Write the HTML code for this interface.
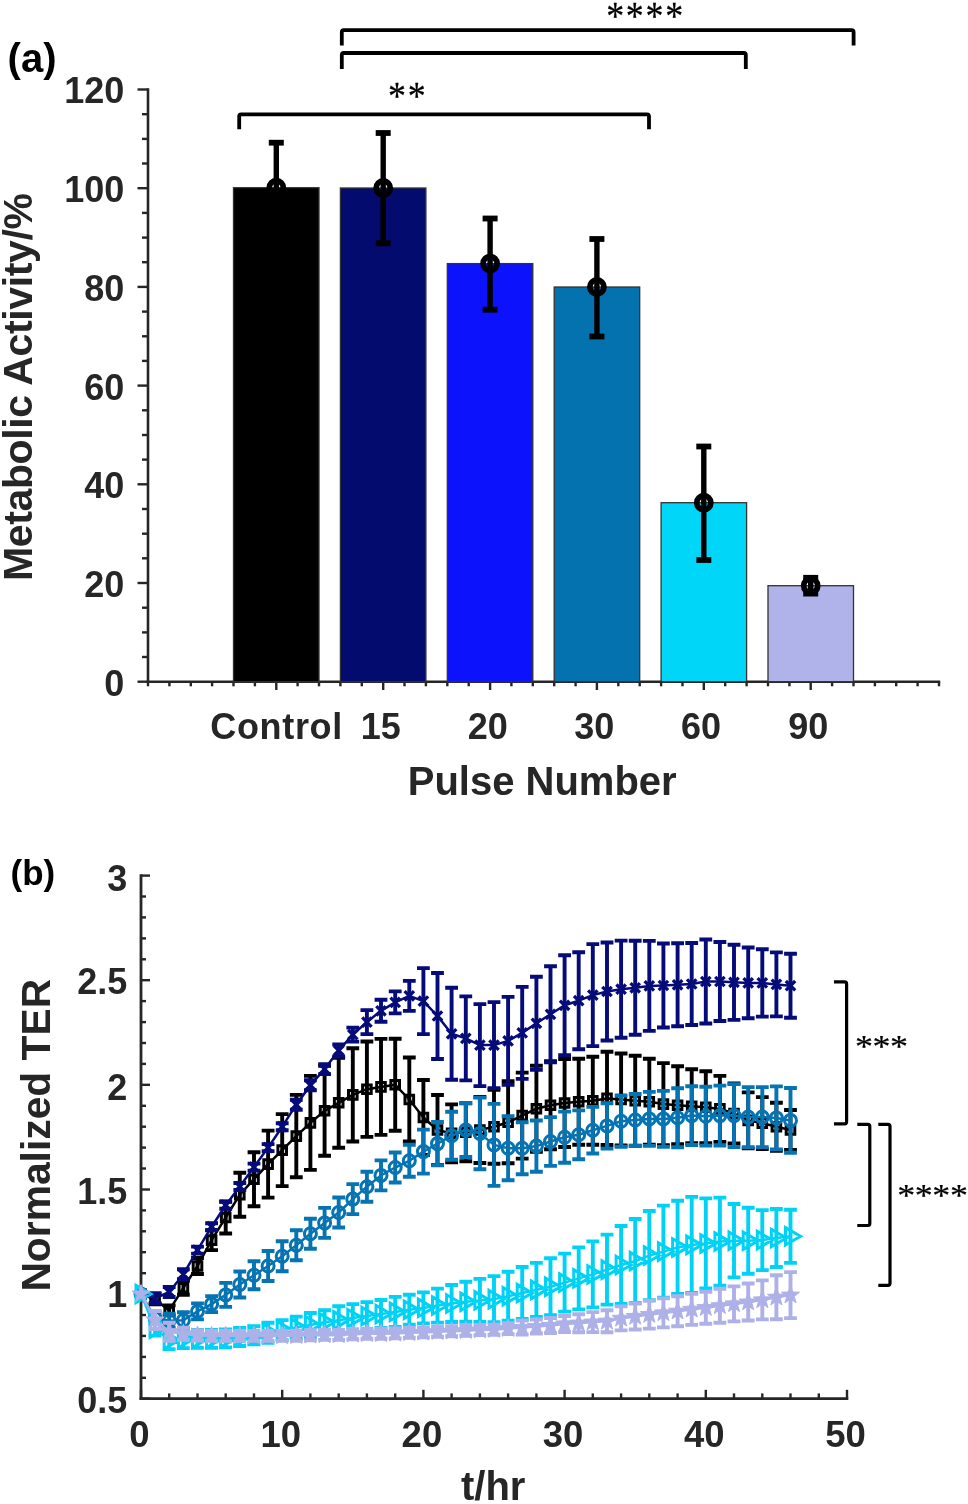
<!DOCTYPE html>
<html><head><meta charset="utf-8"><style>
html,body{margin:0;padding:0;background:#fff;}
body{width:968px;height:1504px;overflow:hidden;}
svg{display:block;will-change:transform;}
</style></head><body>
<svg width="968" height="1504" viewBox="0 0 968 1504">
<rect width="968" height="1504" fill="#fff"/>
<line x1="148.0" y1="88.3" x2="148.0" y2="682.9" stroke="#262626" stroke-width="2.6"/>
<line x1="146.7" y1="681.7" x2="940.2" y2="681.7" stroke="#262626" stroke-width="2.6"/>
<line x1="137.5" y1="681.7" x2="148.0" y2="681.7" stroke="#262626" stroke-width="2.4"/>
<line x1="142.0" y1="657.0" x2="148.0" y2="657.0" stroke="#262626" stroke-width="2.4"/>
<line x1="142.0" y1="632.4" x2="148.0" y2="632.4" stroke="#262626" stroke-width="2.4"/>
<line x1="142.0" y1="607.7" x2="148.0" y2="607.7" stroke="#262626" stroke-width="2.4"/>
<line x1="137.5" y1="583.0" x2="148.0" y2="583.0" stroke="#262626" stroke-width="2.4"/>
<line x1="142.0" y1="558.3" x2="148.0" y2="558.3" stroke="#262626" stroke-width="2.4"/>
<line x1="142.0" y1="533.7" x2="148.0" y2="533.7" stroke="#262626" stroke-width="2.4"/>
<line x1="142.0" y1="509.0" x2="148.0" y2="509.0" stroke="#262626" stroke-width="2.4"/>
<line x1="137.5" y1="484.3" x2="148.0" y2="484.3" stroke="#262626" stroke-width="2.4"/>
<line x1="142.0" y1="459.6" x2="148.0" y2="459.6" stroke="#262626" stroke-width="2.4"/>
<line x1="142.0" y1="435.0" x2="148.0" y2="435.0" stroke="#262626" stroke-width="2.4"/>
<line x1="142.0" y1="410.3" x2="148.0" y2="410.3" stroke="#262626" stroke-width="2.4"/>
<line x1="137.5" y1="385.6" x2="148.0" y2="385.6" stroke="#262626" stroke-width="2.4"/>
<line x1="142.0" y1="360.9" x2="148.0" y2="360.9" stroke="#262626" stroke-width="2.4"/>
<line x1="142.0" y1="336.3" x2="148.0" y2="336.3" stroke="#262626" stroke-width="2.4"/>
<line x1="142.0" y1="311.6" x2="148.0" y2="311.6" stroke="#262626" stroke-width="2.4"/>
<line x1="137.5" y1="286.9" x2="148.0" y2="286.9" stroke="#262626" stroke-width="2.4"/>
<line x1="142.0" y1="262.2" x2="148.0" y2="262.2" stroke="#262626" stroke-width="2.4"/>
<line x1="142.0" y1="237.6" x2="148.0" y2="237.6" stroke="#262626" stroke-width="2.4"/>
<line x1="142.0" y1="212.9" x2="148.0" y2="212.9" stroke="#262626" stroke-width="2.4"/>
<line x1="137.5" y1="188.2" x2="148.0" y2="188.2" stroke="#262626" stroke-width="2.4"/>
<line x1="142.0" y1="163.5" x2="148.0" y2="163.5" stroke="#262626" stroke-width="2.4"/>
<line x1="142.0" y1="138.9" x2="148.0" y2="138.9" stroke="#262626" stroke-width="2.4"/>
<line x1="142.0" y1="114.2" x2="148.0" y2="114.2" stroke="#262626" stroke-width="2.4"/>
<line x1="137.5" y1="89.5" x2="148.0" y2="89.5" stroke="#262626" stroke-width="2.4"/>
<line x1="148.0" y1="681.7" x2="148.0" y2="686.3" stroke="#262626" stroke-width="2.4"/>
<line x1="169.4" y1="681.7" x2="169.4" y2="686.3" stroke="#262626" stroke-width="2.4"/>
<line x1="190.8" y1="681.7" x2="190.8" y2="686.3" stroke="#262626" stroke-width="2.4"/>
<line x1="212.1" y1="681.7" x2="212.1" y2="686.3" stroke="#262626" stroke-width="2.4"/>
<line x1="233.5" y1="681.7" x2="233.5" y2="686.3" stroke="#262626" stroke-width="2.4"/>
<line x1="254.9" y1="681.7" x2="254.9" y2="686.3" stroke="#262626" stroke-width="2.4"/>
<line x1="276.3" y1="681.7" x2="276.3" y2="690.0" stroke="#262626" stroke-width="2.4"/>
<line x1="297.6" y1="681.7" x2="297.6" y2="686.3" stroke="#262626" stroke-width="2.4"/>
<line x1="319.0" y1="681.7" x2="319.0" y2="686.3" stroke="#262626" stroke-width="2.4"/>
<line x1="340.4" y1="681.7" x2="340.4" y2="686.3" stroke="#262626" stroke-width="2.4"/>
<line x1="361.8" y1="681.7" x2="361.8" y2="686.3" stroke="#262626" stroke-width="2.4"/>
<line x1="383.2" y1="681.7" x2="383.2" y2="690.0" stroke="#262626" stroke-width="2.4"/>
<line x1="404.5" y1="681.7" x2="404.5" y2="686.3" stroke="#262626" stroke-width="2.4"/>
<line x1="425.9" y1="681.7" x2="425.9" y2="686.3" stroke="#262626" stroke-width="2.4"/>
<line x1="447.3" y1="681.7" x2="447.3" y2="686.3" stroke="#262626" stroke-width="2.4"/>
<line x1="468.7" y1="681.7" x2="468.7" y2="686.3" stroke="#262626" stroke-width="2.4"/>
<line x1="490.1" y1="681.7" x2="490.1" y2="690.0" stroke="#262626" stroke-width="2.4"/>
<line x1="511.4" y1="681.7" x2="511.4" y2="686.3" stroke="#262626" stroke-width="2.4"/>
<line x1="532.8" y1="681.7" x2="532.8" y2="686.3" stroke="#262626" stroke-width="2.4"/>
<line x1="554.2" y1="681.7" x2="554.2" y2="686.3" stroke="#262626" stroke-width="2.4"/>
<line x1="575.6" y1="681.7" x2="575.6" y2="686.3" stroke="#262626" stroke-width="2.4"/>
<line x1="596.9" y1="681.7" x2="596.9" y2="690.0" stroke="#262626" stroke-width="2.4"/>
<line x1="618.3" y1="681.7" x2="618.3" y2="686.3" stroke="#262626" stroke-width="2.4"/>
<line x1="639.7" y1="681.7" x2="639.7" y2="686.3" stroke="#262626" stroke-width="2.4"/>
<line x1="661.1" y1="681.7" x2="661.1" y2="686.3" stroke="#262626" stroke-width="2.4"/>
<line x1="682.5" y1="681.7" x2="682.5" y2="686.3" stroke="#262626" stroke-width="2.4"/>
<line x1="703.8" y1="681.7" x2="703.8" y2="690.0" stroke="#262626" stroke-width="2.4"/>
<line x1="725.2" y1="681.7" x2="725.2" y2="686.3" stroke="#262626" stroke-width="2.4"/>
<line x1="746.6" y1="681.7" x2="746.6" y2="686.3" stroke="#262626" stroke-width="2.4"/>
<line x1="768.0" y1="681.7" x2="768.0" y2="686.3" stroke="#262626" stroke-width="2.4"/>
<line x1="789.4" y1="681.7" x2="789.4" y2="686.3" stroke="#262626" stroke-width="2.4"/>
<line x1="810.7" y1="681.7" x2="810.7" y2="690.0" stroke="#262626" stroke-width="2.4"/>
<line x1="832.1" y1="681.7" x2="832.1" y2="686.3" stroke="#262626" stroke-width="2.4"/>
<line x1="853.5" y1="681.7" x2="853.5" y2="686.3" stroke="#262626" stroke-width="2.4"/>
<line x1="874.9" y1="681.7" x2="874.9" y2="686.3" stroke="#262626" stroke-width="2.4"/>
<line x1="896.2" y1="681.7" x2="896.2" y2="686.3" stroke="#262626" stroke-width="2.4"/>
<line x1="917.6" y1="681.7" x2="917.6" y2="686.3" stroke="#262626" stroke-width="2.4"/>
<line x1="939.0" y1="681.7" x2="939.0" y2="686.3" stroke="#262626" stroke-width="2.4"/>
<rect x="233.5" y="187.7" width="85.5" height="494.0" fill="#000000" stroke="#333" stroke-width="1.3"/>
<rect x="340.4" y="188.0" width="85.5" height="493.7" fill="#040b6f" stroke="#333" stroke-width="1.3"/>
<rect x="447.3" y="263.6" width="85.5" height="418.1" fill="#0d12fc" stroke="#333" stroke-width="1.3"/>
<rect x="554.2" y="287.0" width="85.5" height="394.7" fill="#0572b0" stroke="#333" stroke-width="1.3"/>
<rect x="661.1" y="502.7" width="85.5" height="179.0" fill="#00d6f8" stroke="#333" stroke-width="1.3"/>
<rect x="768.0" y="585.7" width="85.5" height="96.0" fill="#afb3e9" stroke="#333" stroke-width="1.3"/>
<circle cx="276.3" cy="187.7" r="7.05" fill="none" stroke="#000" stroke-width="5.7"/>
<line x1="276.3" y1="142.7" x2="276.3" y2="233.0" stroke="#000" stroke-width="5.4"/>
<line x1="268.8" y1="142.7" x2="283.8" y2="142.7" stroke="#000" stroke-width="5.8"/>
<line x1="268.8" y1="233.0" x2="283.8" y2="233.0" stroke="#000" stroke-width="5.8"/>
<circle cx="383.2" cy="188.0" r="7.05" fill="none" stroke="#000" stroke-width="5.7"/>
<line x1="383.2" y1="133.0" x2="383.2" y2="243.3" stroke="#000" stroke-width="5.4"/>
<line x1="375.7" y1="133.0" x2="390.7" y2="133.0" stroke="#000" stroke-width="5.8"/>
<line x1="375.7" y1="243.3" x2="390.7" y2="243.3" stroke="#000" stroke-width="5.8"/>
<circle cx="490.1" cy="263.6" r="7.05" fill="none" stroke="#000" stroke-width="5.7"/>
<line x1="490.1" y1="218.5" x2="490.1" y2="309.7" stroke="#000" stroke-width="5.4"/>
<line x1="482.6" y1="218.5" x2="497.6" y2="218.5" stroke="#000" stroke-width="5.8"/>
<line x1="482.6" y1="309.7" x2="497.6" y2="309.7" stroke="#000" stroke-width="5.8"/>
<circle cx="596.9" cy="287.0" r="7.05" fill="none" stroke="#000" stroke-width="5.7"/>
<line x1="596.9" y1="239.0" x2="596.9" y2="336.5" stroke="#000" stroke-width="5.4"/>
<line x1="589.4" y1="239.0" x2="604.4" y2="239.0" stroke="#000" stroke-width="5.8"/>
<line x1="589.4" y1="336.5" x2="604.4" y2="336.5" stroke="#000" stroke-width="5.8"/>
<circle cx="703.8" cy="502.7" r="7.05" fill="none" stroke="#000" stroke-width="5.7"/>
<line x1="703.8" y1="446.5" x2="703.8" y2="560.0" stroke="#000" stroke-width="5.4"/>
<line x1="696.3" y1="446.5" x2="711.3" y2="446.5" stroke="#000" stroke-width="5.8"/>
<line x1="696.3" y1="560.0" x2="711.3" y2="560.0" stroke="#000" stroke-width="5.8"/>
<circle cx="810.7" cy="585.7" r="7.05" fill="none" stroke="#000" stroke-width="5.7"/>
<line x1="810.7" y1="577.8" x2="810.7" y2="593.6" stroke="#000" stroke-width="5.4"/>
<line x1="803.2" y1="577.8" x2="818.2" y2="577.8" stroke="#000" stroke-width="5.8"/>
<line x1="803.2" y1="593.6" x2="818.2" y2="593.6" stroke="#000" stroke-width="5.8"/>
<path d="M341.8 45.6 L341.8 32.1 Q341.8 30.1 343.8 30.1 L851.6 30.1 Q853.6 30.1 853.6 32.1 L853.6 45.6" fill="none" stroke="#000" stroke-width="3.8"/>
<path d="M341.8 69.0 L341.8 55.0 Q341.8 53.0 343.8 53.0 L743.8 53.0 Q745.8 53.0 745.8 55.0 L745.8 69.0" fill="none" stroke="#000" stroke-width="3.8"/>
<path d="M239.2 129.2 L239.2 116.4 Q239.2 114.4 241.2 114.4 L647.0 114.4 Q649.0 114.4 649.0 116.4 L649.0 129.2" fill="none" stroke="#000" stroke-width="3.8"/>
<text x="7.6" y="71.6" font-family='"Liberation Sans", sans-serif' font-size="40" font-weight="bold" text-anchor="start" fill="#000" >(a)</text>
<text x="124.4" y="695.6" font-family='"Liberation Sans", sans-serif' font-size="36" font-weight="bold" text-anchor="end" fill="#262626" >0</text>
<text x="124.4" y="596.9" font-family='"Liberation Sans", sans-serif' font-size="36" font-weight="bold" text-anchor="end" fill="#262626" >20</text>
<text x="124.4" y="498.2" font-family='"Liberation Sans", sans-serif' font-size="36" font-weight="bold" text-anchor="end" fill="#262626" >40</text>
<text x="124.4" y="399.5" font-family='"Liberation Sans", sans-serif' font-size="36" font-weight="bold" text-anchor="end" fill="#262626" >60</text>
<text x="124.4" y="300.8" font-family='"Liberation Sans", sans-serif' font-size="36" font-weight="bold" text-anchor="end" fill="#262626" >80</text>
<text x="124.4" y="202.1" font-family='"Liberation Sans", sans-serif' font-size="36" font-weight="bold" text-anchor="end" fill="#262626" >100</text>
<text x="124.4" y="103.4" font-family='"Liberation Sans", sans-serif' font-size="36" font-weight="bold" text-anchor="end" fill="#262626" >120</text>
<text x="276.3" y="739.4" font-family='"Liberation Sans", sans-serif' font-size="36" font-weight="bold" text-anchor="middle" fill="#262626" textLength="132" lengthAdjust="spacing">Control</text>
<text x="380.7" y="739.4" font-family='"Liberation Sans", sans-serif' font-size="36" font-weight="bold" text-anchor="middle" fill="#262626" >15</text>
<text x="487.8" y="739.4" font-family='"Liberation Sans", sans-serif' font-size="36" font-weight="bold" text-anchor="middle" fill="#262626" >20</text>
<text x="594.2" y="739.4" font-family='"Liberation Sans", sans-serif' font-size="36" font-weight="bold" text-anchor="middle" fill="#262626" >30</text>
<text x="701.1" y="739.4" font-family='"Liberation Sans", sans-serif' font-size="36" font-weight="bold" text-anchor="middle" fill="#262626" >60</text>
<text x="808.2" y="739.4" font-family='"Liberation Sans", sans-serif' font-size="36" font-weight="bold" text-anchor="middle" fill="#262626" >90</text>
<text x="542.2" y="795.0" font-family='"Liberation Sans", sans-serif' font-size="40" font-weight="bold" text-anchor="middle" fill="#262626" >Pulse Number</text>
<text transform="translate(32.0 387) rotate(-90)" x="0" y="0" font-family='"Liberation Sans", sans-serif' font-size="41" font-weight="bold" text-anchor="middle" fill="#262626" textLength="388" lengthAdjust="spacing">Metabolic Activity/%</text>
<text transform="translate(606.13 28.84) scale(0.3588 0.3986)" font-family='"Liberation Serif", serif' font-size="100" fill="#000" stroke="#000" stroke-width="0.66">*</text>
<text transform="translate(625.80 28.84) scale(0.3588 0.3986)" font-family='"Liberation Serif", serif' font-size="100" fill="#000" stroke="#000" stroke-width="0.66">*</text>
<text transform="translate(645.47 28.84) scale(0.3588 0.3986)" font-family='"Liberation Serif", serif' font-size="100" fill="#000" stroke="#000" stroke-width="0.66">*</text>
<text transform="translate(665.14 28.84) scale(0.3588 0.3986)" font-family='"Liberation Serif", serif' font-size="100" fill="#000" stroke="#000" stroke-width="0.66">*</text>
<text transform="translate(388.03 108.94) scale(0.3588 0.3986)" font-family='"Liberation Serif", serif' font-size="100" fill="#000" stroke="#000" stroke-width="0.66">*</text>
<text transform="translate(407.83 108.94) scale(0.3588 0.3986)" font-family='"Liberation Serif", serif' font-size="100" fill="#000" stroke="#000" stroke-width="0.66">*</text>
<line x1="141.0" y1="874.3" x2="141.0" y2="1400.0" stroke="#262626" stroke-width="2.8"/>
<line x1="139.6" y1="1398.7" x2="848.3" y2="1398.7" stroke="#262626" stroke-width="2.8"/>
<line x1="141.0" y1="1398.7" x2="150.0" y2="1398.7" stroke="#262626" stroke-width="2.4"/>
<line x1="141.0" y1="1377.8" x2="146.0" y2="1377.8" stroke="#262626" stroke-width="2.4"/>
<line x1="141.0" y1="1356.9" x2="146.0" y2="1356.9" stroke="#262626" stroke-width="2.4"/>
<line x1="141.0" y1="1335.9" x2="146.0" y2="1335.9" stroke="#262626" stroke-width="2.4"/>
<line x1="141.0" y1="1315.0" x2="146.0" y2="1315.0" stroke="#262626" stroke-width="2.4"/>
<line x1="141.0" y1="1294.1" x2="150.0" y2="1294.1" stroke="#262626" stroke-width="2.4"/>
<line x1="141.0" y1="1273.2" x2="146.0" y2="1273.2" stroke="#262626" stroke-width="2.4"/>
<line x1="141.0" y1="1252.2" x2="146.0" y2="1252.2" stroke="#262626" stroke-width="2.4"/>
<line x1="141.0" y1="1231.3" x2="146.0" y2="1231.3" stroke="#262626" stroke-width="2.4"/>
<line x1="141.0" y1="1210.4" x2="146.0" y2="1210.4" stroke="#262626" stroke-width="2.4"/>
<line x1="141.0" y1="1189.5" x2="150.0" y2="1189.5" stroke="#262626" stroke-width="2.4"/>
<line x1="141.0" y1="1168.5" x2="146.0" y2="1168.5" stroke="#262626" stroke-width="2.4"/>
<line x1="141.0" y1="1147.6" x2="146.0" y2="1147.6" stroke="#262626" stroke-width="2.4"/>
<line x1="141.0" y1="1126.7" x2="146.0" y2="1126.7" stroke="#262626" stroke-width="2.4"/>
<line x1="141.0" y1="1105.8" x2="146.0" y2="1105.8" stroke="#262626" stroke-width="2.4"/>
<line x1="141.0" y1="1084.8" x2="150.0" y2="1084.8" stroke="#262626" stroke-width="2.4"/>
<line x1="141.0" y1="1063.9" x2="146.0" y2="1063.9" stroke="#262626" stroke-width="2.4"/>
<line x1="141.0" y1="1043.0" x2="146.0" y2="1043.0" stroke="#262626" stroke-width="2.4"/>
<line x1="141.0" y1="1022.1" x2="146.0" y2="1022.1" stroke="#262626" stroke-width="2.4"/>
<line x1="141.0" y1="1001.1" x2="146.0" y2="1001.1" stroke="#262626" stroke-width="2.4"/>
<line x1="141.0" y1="980.2" x2="150.0" y2="980.2" stroke="#262626" stroke-width="2.4"/>
<line x1="141.0" y1="959.3" x2="146.0" y2="959.3" stroke="#262626" stroke-width="2.4"/>
<line x1="141.0" y1="938.4" x2="146.0" y2="938.4" stroke="#262626" stroke-width="2.4"/>
<line x1="141.0" y1="917.4" x2="146.0" y2="917.4" stroke="#262626" stroke-width="2.4"/>
<line x1="141.0" y1="896.5" x2="146.0" y2="896.5" stroke="#262626" stroke-width="2.4"/>
<line x1="141.0" y1="875.6" x2="150.0" y2="875.6" stroke="#262626" stroke-width="2.4"/>
<line x1="141.0" y1="1398.7" x2="141.0" y2="1389.8" stroke="#262626" stroke-width="2.4"/>
<line x1="169.2" y1="1398.7" x2="169.2" y2="1393.4" stroke="#262626" stroke-width="2.4"/>
<line x1="197.5" y1="1398.7" x2="197.5" y2="1393.4" stroke="#262626" stroke-width="2.4"/>
<line x1="225.7" y1="1398.7" x2="225.7" y2="1393.4" stroke="#262626" stroke-width="2.4"/>
<line x1="254.0" y1="1398.7" x2="254.0" y2="1393.4" stroke="#262626" stroke-width="2.4"/>
<line x1="282.2" y1="1398.7" x2="282.2" y2="1389.8" stroke="#262626" stroke-width="2.4"/>
<line x1="310.4" y1="1398.7" x2="310.4" y2="1393.4" stroke="#262626" stroke-width="2.4"/>
<line x1="338.7" y1="1398.7" x2="338.7" y2="1393.4" stroke="#262626" stroke-width="2.4"/>
<line x1="366.9" y1="1398.7" x2="366.9" y2="1393.4" stroke="#262626" stroke-width="2.4"/>
<line x1="395.2" y1="1398.7" x2="395.2" y2="1393.4" stroke="#262626" stroke-width="2.4"/>
<line x1="423.4" y1="1398.7" x2="423.4" y2="1389.8" stroke="#262626" stroke-width="2.4"/>
<line x1="451.6" y1="1398.7" x2="451.6" y2="1393.4" stroke="#262626" stroke-width="2.4"/>
<line x1="479.9" y1="1398.7" x2="479.9" y2="1393.4" stroke="#262626" stroke-width="2.4"/>
<line x1="508.1" y1="1398.7" x2="508.1" y2="1393.4" stroke="#262626" stroke-width="2.4"/>
<line x1="536.4" y1="1398.7" x2="536.4" y2="1393.4" stroke="#262626" stroke-width="2.4"/>
<line x1="564.6" y1="1398.7" x2="564.6" y2="1389.8" stroke="#262626" stroke-width="2.4"/>
<line x1="592.8" y1="1398.7" x2="592.8" y2="1393.4" stroke="#262626" stroke-width="2.4"/>
<line x1="621.1" y1="1398.7" x2="621.1" y2="1393.4" stroke="#262626" stroke-width="2.4"/>
<line x1="649.3" y1="1398.7" x2="649.3" y2="1393.4" stroke="#262626" stroke-width="2.4"/>
<line x1="677.6" y1="1398.7" x2="677.6" y2="1393.4" stroke="#262626" stroke-width="2.4"/>
<line x1="705.8" y1="1398.7" x2="705.8" y2="1389.8" stroke="#262626" stroke-width="2.4"/>
<line x1="734.0" y1="1398.7" x2="734.0" y2="1393.4" stroke="#262626" stroke-width="2.4"/>
<line x1="762.3" y1="1398.7" x2="762.3" y2="1393.4" stroke="#262626" stroke-width="2.4"/>
<line x1="790.5" y1="1398.7" x2="790.5" y2="1393.4" stroke="#262626" stroke-width="2.4"/>
<line x1="818.8" y1="1398.7" x2="818.8" y2="1393.4" stroke="#262626" stroke-width="2.4"/>
<line x1="847.0" y1="1398.7" x2="847.0" y2="1389.8" stroke="#262626" stroke-width="2.4"/>
<text x="10.5" y="885.4" font-family='"Liberation Sans", sans-serif' font-size="35" font-weight="bold" text-anchor="start" fill="#000" >(b)</text>
<text x="127.2" y="1413.0" font-family='"Liberation Sans", sans-serif' font-size="36" font-weight="bold" text-anchor="end" fill="#262626" >0.5</text>
<text x="127.2" y="1307.4" font-family='"Liberation Sans", sans-serif' font-size="36" font-weight="bold" text-anchor="end" fill="#262626" >1</text>
<text x="127.2" y="1204.3" font-family='"Liberation Sans", sans-serif' font-size="36" font-weight="bold" text-anchor="end" fill="#262626" >1.5</text>
<text x="127.2" y="1099.7" font-family='"Liberation Sans", sans-serif' font-size="36" font-weight="bold" text-anchor="end" fill="#262626" >2</text>
<text x="127.2" y="994.0" font-family='"Liberation Sans", sans-serif' font-size="36" font-weight="bold" text-anchor="end" fill="#262626" >2.5</text>
<text x="127.2" y="890.9" font-family='"Liberation Sans", sans-serif' font-size="36" font-weight="bold" text-anchor="end" fill="#262626" >3</text>
<text x="139.5" y="1446.6" font-family='"Liberation Sans", sans-serif' font-size="36.5" font-weight="bold" text-anchor="middle" fill="#262626" >0</text>
<text x="280.7" y="1446.6" font-family='"Liberation Sans", sans-serif' font-size="36.5" font-weight="bold" text-anchor="middle" fill="#262626" >10</text>
<text x="421.9" y="1446.6" font-family='"Liberation Sans", sans-serif' font-size="36.5" font-weight="bold" text-anchor="middle" fill="#262626" >20</text>
<text x="563.1" y="1446.6" font-family='"Liberation Sans", sans-serif' font-size="36.5" font-weight="bold" text-anchor="middle" fill="#262626" >30</text>
<text x="704.3" y="1446.6" font-family='"Liberation Sans", sans-serif' font-size="36.5" font-weight="bold" text-anchor="middle" fill="#262626" >40</text>
<text x="845.5" y="1446.6" font-family='"Liberation Sans", sans-serif' font-size="36.5" font-weight="bold" text-anchor="middle" fill="#262626" >50</text>
<text x="493.2" y="1500.0" font-family='"Liberation Sans", sans-serif' font-size="40" font-weight="bold" text-anchor="middle" fill="#262626" >t/hr</text>
<text transform="translate(49.6 1135.2) rotate(-90)" x="0" y="0" font-family='"Liberation Sans", sans-serif' font-size="40.8" font-weight="bold" text-anchor="middle" fill="#262626">Normalized TER</text>
<path d="M834.0 981.9 L844.6 981.9 Q846.6 981.9 846.6 983.9 L846.6 1121.8 Q846.6 1123.8 844.6 1123.8 L834.0 1123.8" fill="none" stroke="#000" stroke-width="3.2"/>
<path d="M857.3 1124.3 L867.8 1124.3 Q869.8 1124.3 869.8 1126.3 L869.8 1223.5 Q869.8 1225.5 867.8 1225.5 L857.3 1225.5" fill="none" stroke="#000" stroke-width="3.2"/>
<path d="M878.3 1124.3 L888.0 1124.3 Q890.0 1124.3 890.0 1126.3 L890.0 1283.3 Q890.0 1285.3 888.0 1285.3 L878.3 1285.3" fill="none" stroke="#000" stroke-width="3.2"/>
<text transform="translate(855.03 1056.86) scale(0.3588 0.3068)" font-family='"Liberation Serif", serif' font-size="100" fill="#000" stroke="#000" stroke-width="0.75">*</text>
<text transform="translate(872.53 1056.86) scale(0.3588 0.3068)" font-family='"Liberation Serif", serif' font-size="100" fill="#000" stroke="#000" stroke-width="0.75">*</text>
<text transform="translate(890.03 1056.86) scale(0.3588 0.3068)" font-family='"Liberation Serif", serif' font-size="100" fill="#000" stroke="#000" stroke-width="0.75">*</text>
<text transform="translate(897.13 1205.94) scale(0.3588 0.3095)" font-family='"Liberation Serif", serif' font-size="100" fill="#000" stroke="#000" stroke-width="0.75">*</text>
<text transform="translate(914.73 1205.94) scale(0.3588 0.3095)" font-family='"Liberation Serif", serif' font-size="100" fill="#000" stroke="#000" stroke-width="0.75">*</text>
<text transform="translate(932.33 1205.94) scale(0.3588 0.3095)" font-family='"Liberation Serif", serif' font-size="100" fill="#000" stroke="#000" stroke-width="0.75">*</text>
<text transform="translate(949.93 1205.94) scale(0.3588 0.3095)" font-family='"Liberation Serif", serif' font-size="100" fill="#000" stroke="#000" stroke-width="0.75">*</text>
<path d="M155.1 1294.3V1304.3M148.7 1294.3H161.5M148.7 1304.3H161.5M169.2 1305.4V1315.4M162.8 1305.4H175.6M162.8 1315.4H175.6M183.4 1280.8V1294.8M177.0 1280.8H189.8M177.0 1294.8H189.8M197.5 1258.0V1274.0M191.1 1258.0H203.9M191.1 1274.0H203.9M211.6 1230.1V1250.1M205.2 1230.1H218.0M205.2 1250.1H218.0M225.7 1201.5V1233.5M219.3 1201.5H232.1M219.3 1233.5H232.1M239.8 1172.7V1216.7M233.4 1172.7H246.2M233.4 1216.7H246.2M254.0 1152.2V1206.2M247.6 1152.2H260.4M247.6 1206.2H260.4M268.1 1130.6V1197.6M261.7 1130.6H274.5M261.7 1197.6H274.5M282.2 1114.1V1186.1M275.8 1114.1H288.6M275.8 1186.1H288.6M296.3 1094.9V1177.3M289.9 1094.9H302.7M289.9 1177.3H302.7M310.4 1075.9V1169.9M304.0 1075.9H316.8M304.0 1169.9H316.8M324.6 1065.8V1155.8M318.2 1065.8H331.0M318.2 1155.8H331.0M338.7 1057.8V1147.8M332.3 1057.8H345.1M332.3 1147.8H345.1M352.8 1048.3V1141.5M346.4 1048.3H359.2M346.4 1141.5H359.2M366.9 1041.5V1136.9M360.5 1041.5H373.3M360.5 1136.9H373.3M381.0 1038.9V1134.9M374.6 1038.9H387.4M374.6 1134.9H387.4M395.2 1038.8V1130.8M388.8 1038.8H401.6M388.8 1130.8H401.6M409.3 1057.5V1141.5M402.9 1057.5H415.7M402.9 1141.5H415.7M423.4 1080.0V1155.0M417.0 1080.0H429.8M417.0 1155.0H429.8M437.5 1095.0V1165.0M431.1 1095.0H443.9M431.1 1165.0H443.9M451.6 1104.4V1162.4M445.2 1104.4H458.0M445.2 1162.4H458.0M465.8 1103.3V1161.3M459.4 1103.3H472.2M459.4 1161.3H472.2M479.9 1097.0V1163.0M473.5 1097.0H486.3M473.5 1163.0H486.3M494.0 1089.7V1163.7M487.6 1089.7H500.4M487.6 1163.7H500.4M508.1 1081.3V1163.3M501.7 1081.3H514.5M501.7 1163.3H514.5M522.2 1072.6V1158.6M515.8 1072.6H528.6M515.8 1158.6H528.6M536.4 1065.7V1151.7M530.0 1065.7H542.8M530.0 1151.7H542.8M550.5 1061.3V1149.3M544.1 1061.3H556.9M544.1 1149.3H556.9M564.6 1059.0V1147.0M558.2 1059.0H571.0M558.2 1147.0H571.0M578.7 1058.8V1144.8M572.3 1058.8H585.1M572.3 1144.8H585.1M592.8 1056.7V1144.7M586.4 1056.7H599.2M586.4 1144.7H599.2M607.0 1051.8V1145.0M600.6 1051.8H613.4M600.6 1145.0H613.4M621.1 1053.5V1145.5M614.7 1053.5H627.5M614.7 1145.5H627.5M635.2 1055.7V1145.7M628.8 1055.7H641.6M628.8 1145.7H641.6M649.3 1058.8V1144.8M642.9 1058.8H655.7M642.9 1144.8H655.7M663.4 1063.1V1145.1M657.0 1063.1H669.8M657.0 1145.1H669.8M677.6 1066.3V1144.3M671.2 1066.3H684.0M671.2 1144.3H684.0M691.7 1069.2V1143.2M685.3 1069.2H698.1M685.3 1143.2H698.1M705.8 1071.2V1143.2M699.4 1071.2H712.2M699.4 1143.2H712.2M719.9 1075.9V1141.9M713.5 1075.9H726.3M713.5 1141.9H726.3M734.0 1083.5V1143.5M727.6 1083.5H740.4M727.6 1143.5H740.4M748.2 1092.4V1148.4M741.8 1092.4H754.6M741.8 1148.4H754.6M762.3 1097.1V1149.1M755.9 1097.1H768.7M755.9 1149.1H768.7M776.4 1102.7V1150.7M770.0 1102.7H782.8M770.0 1150.7H782.8M790.5 1110.0V1150.0M784.1 1110.0H796.9M784.1 1150.0H796.9" fill="none" stroke="#000000" stroke-width="3.9"/>
<path d="M141.0 1294.1 L155.1 1299.3 L169.2 1310.4 L183.4 1287.8 L197.5 1266.0 L211.6 1240.1 L225.7 1217.5 L239.8 1194.7 L254.0 1179.2 L268.1 1164.1 L282.2 1150.1 L296.3 1136.1 L310.4 1122.9 L324.6 1110.8 L338.7 1102.8 L352.8 1094.9 L366.9 1089.2 L381.0 1086.9 L395.2 1084.8 L409.3 1099.5 L423.4 1117.5 L437.5 1130.0 L451.6 1133.4 L465.8 1132.3 L479.9 1130.0 L494.0 1126.7 L508.1 1122.3 L522.2 1115.6 L536.4 1108.7 L550.5 1105.3 L564.6 1103.0 L578.7 1101.8 L592.8 1100.7 L607.0 1098.4 L621.1 1099.5 L635.2 1100.7 L649.3 1101.8 L663.4 1104.1 L677.6 1105.3 L691.7 1106.2 L705.8 1107.2 L719.9 1108.9 L734.0 1113.5 L748.2 1120.4 L762.3 1123.1 L776.4 1126.7 L790.5 1130.0" fill="none" stroke="#000000" stroke-width="2.5" stroke-linejoin="round"/>
<path d="M136.7 1289.8h8.6v8.6h-8.6zM150.8 1295.0h8.6v8.6h-8.6zM164.9 1306.1h8.6v8.6h-8.6zM179.1 1283.5h8.6v8.6h-8.6zM193.2 1261.7h8.6v8.6h-8.6zM207.3 1235.8h8.6v8.6h-8.6zM221.4 1213.2h8.6v8.6h-8.6zM235.5 1190.4h8.6v8.6h-8.6zM249.7 1174.9h8.6v8.6h-8.6zM263.8 1159.8h8.6v8.6h-8.6zM277.9 1145.8h8.6v8.6h-8.6zM292.0 1131.8h8.6v8.6h-8.6zM306.1 1118.6h8.6v8.6h-8.6zM320.3 1106.5h8.6v8.6h-8.6zM334.4 1098.5h8.6v8.6h-8.6zM348.5 1090.6h8.6v8.6h-8.6zM362.6 1084.9h8.6v8.6h-8.6zM376.7 1082.6h8.6v8.6h-8.6zM390.9 1080.5h8.6v8.6h-8.6zM405.0 1095.2h8.6v8.6h-8.6zM419.1 1113.2h8.6v8.6h-8.6zM433.2 1125.7h8.6v8.6h-8.6zM447.3 1129.1h8.6v8.6h-8.6zM461.5 1128.0h8.6v8.6h-8.6zM475.6 1125.7h8.6v8.6h-8.6zM489.7 1122.4h8.6v8.6h-8.6zM503.8 1118.0h8.6v8.6h-8.6zM517.9 1111.3h8.6v8.6h-8.6zM532.1 1104.4h8.6v8.6h-8.6zM546.2 1101.0h8.6v8.6h-8.6zM560.3 1098.7h8.6v8.6h-8.6zM574.4 1097.5h8.6v8.6h-8.6zM588.5 1096.4h8.6v8.6h-8.6zM602.7 1094.1h8.6v8.6h-8.6zM616.8 1095.2h8.6v8.6h-8.6zM630.9 1096.4h8.6v8.6h-8.6zM645.0 1097.5h8.6v8.6h-8.6zM659.1 1099.8h8.6v8.6h-8.6zM673.3 1101.0h8.6v8.6h-8.6zM687.4 1101.9h8.6v8.6h-8.6zM701.5 1102.9h8.6v8.6h-8.6zM715.6 1104.6h8.6v8.6h-8.6zM729.7 1109.2h8.6v8.6h-8.6zM743.9 1116.1h8.6v8.6h-8.6zM758.0 1118.8h8.6v8.6h-8.6zM772.1 1122.4h8.6v8.6h-8.6zM786.2 1125.7h8.6v8.6h-8.6z" fill="none" stroke="#000000" stroke-width="3"/>
<path d="M155.1 1293.3V1303.3M148.7 1293.3H161.5M148.7 1303.3H161.5M169.2 1287.0V1297.0M162.8 1287.0H175.6M162.8 1297.0H175.6M183.4 1269.2V1279.2M177.0 1269.2H189.8M177.0 1279.2H189.8M197.5 1246.6V1253.6M191.1 1246.6H203.9M191.1 1253.6H203.9M211.6 1223.2V1230.2M205.2 1223.2H218.0M205.2 1230.2H218.0M225.7 1201.7V1208.7M219.3 1201.7H232.1M219.3 1208.7H232.1M239.8 1183.0V1190.0M233.4 1183.0H246.2M233.4 1190.0H246.2M254.0 1163.6V1170.6M247.6 1163.6H260.4M247.6 1170.6H260.4M268.1 1144.1V1151.1M261.7 1144.1H274.5M261.7 1151.1H274.5M282.2 1123.2V1130.2M275.8 1123.2H288.6M275.8 1130.2H288.6M296.3 1099.7V1109.7M289.9 1099.7H302.7M289.9 1109.7H302.7M310.4 1080.3V1090.3M304.0 1080.3H316.8M304.0 1090.3H316.8M324.6 1064.1V1074.1M318.2 1064.1H331.0M318.2 1074.1H331.0M338.7 1044.5V1056.5M332.3 1044.5H345.1M332.3 1056.5H345.1M352.8 1027.6V1041.6M346.4 1027.6H359.2M346.4 1041.6H359.2M366.9 1010.1V1034.1M360.5 1010.1H373.3M360.5 1034.1H373.3M381.0 999.8V1021.8M374.6 999.8H387.4M374.6 1021.8H387.4M395.2 991.4V1013.4M388.8 991.4H401.6M388.8 1013.4H401.6M409.3 980.9V1010.9M402.9 980.9H415.7M402.9 1010.9H415.7M423.4 968.1V1034.1M417.0 968.1H429.8M417.0 1034.1H429.8M437.5 973.0V1059.0M431.1 973.0H443.9M431.1 1059.0H443.9M451.6 987.8V1079.8M445.2 987.8H458.0M445.2 1079.8H458.0M465.8 996.4V1080.4M459.4 996.4H472.2M459.4 1080.4H472.2M479.9 1004.1V1086.1M473.5 1004.1H486.3M473.5 1086.1H486.3M494.0 1002.1V1088.1M487.6 1002.1H500.4M487.6 1088.1H500.4M508.1 996.9V1084.9M501.7 996.9H514.5M501.7 1084.9H514.5M522.2 986.9V1078.9M515.8 986.9H528.6M515.8 1078.9H528.6M536.4 976.7V1069.9M530.0 976.7H542.8M530.0 1069.9H542.8M550.5 966.3V1062.3M544.1 966.3H556.9M544.1 1062.3H556.9M564.6 955.3V1055.3M558.2 955.3H571.0M558.2 1055.3H571.0M578.7 952.2V1049.2M572.3 952.2H585.1M572.3 1049.2H585.1M592.8 944.1V1046.1M586.4 944.1H599.2M586.4 1046.1H599.2M607.0 942.5V1040.5M600.6 942.5H613.4M600.6 1040.5H613.4M621.1 940.6V1037.8M614.7 940.6H627.5M614.7 1037.8H627.5M635.2 940.8V1034.8M628.8 940.8H641.6M628.8 1034.8H641.6M649.3 940.9V1030.9M642.9 940.9H655.7M642.9 1030.9H655.7M663.4 943.5V1027.5M657.0 943.5H669.8M657.0 1027.5H669.8M677.6 943.3V1026.3M671.2 943.3H684.0M671.2 1026.3H684.0M691.7 943.0V1025.0M685.3 943.0H698.1M685.3 1025.0H698.1M705.8 939.5V1023.5M699.4 939.5H712.2M699.4 1023.5H712.2M719.9 942.0V1021.0M713.5 942.0H726.3M713.5 1021.0H726.3M734.0 944.7V1019.9M727.6 944.7H740.4M727.6 1019.9H740.4M748.2 947.5V1018.3M741.8 947.5H754.6M741.8 1018.3H754.6M762.3 949.2V1016.6M755.9 949.2H768.7M755.9 1016.6H768.7M776.4 952.4V1016.4M770.0 952.4H782.8M770.0 1016.4H782.8M790.5 953.7V1017.7M784.1 953.7H796.9M784.1 1017.7H796.9" fill="none" stroke="#050b78" stroke-width="3.9"/>
<path d="M141.0 1294.1 L155.1 1298.3 L169.2 1292.0 L183.4 1274.2 L197.5 1250.1 L211.6 1226.7 L225.7 1205.2 L239.8 1186.5 L254.0 1167.1 L268.1 1147.6 L282.2 1126.7 L296.3 1104.7 L310.4 1085.3 L324.6 1069.1 L338.7 1050.5 L352.8 1034.6 L366.9 1022.1 L381.0 1010.8 L395.2 1002.4 L409.3 995.9 L423.4 1001.1 L437.5 1016.0 L451.6 1033.8 L465.8 1038.4 L479.9 1045.1 L494.0 1045.1 L508.1 1040.9 L522.2 1032.9 L536.4 1023.3 L550.5 1014.3 L564.6 1005.3 L578.7 1000.7 L592.8 995.1 L607.0 991.5 L621.1 989.2 L635.2 987.8 L649.3 985.9 L663.4 985.5 L677.6 984.8 L691.7 984.0 L705.8 981.5 L719.9 981.5 L734.0 982.3 L748.2 982.9 L762.3 982.9 L776.4 984.4 L790.5 985.7" fill="none" stroke="#050b78" stroke-width="2.5" stroke-linejoin="round"/>
<path d="M136.3 1289.4L145.7 1298.8M136.3 1298.8L145.7 1289.4M150.4 1293.6L159.8 1303.0M150.4 1303.0L159.8 1293.6M164.5 1287.3L173.9 1296.7M164.5 1296.7L173.9 1287.3M178.7 1269.5L188.1 1278.9M178.7 1278.9L188.1 1269.5M192.8 1245.4L202.2 1254.8M192.8 1254.8L202.2 1245.4M206.9 1222.0L216.3 1231.4M206.9 1231.4L216.3 1222.0M221.0 1200.5L230.4 1209.9M221.0 1209.9L230.4 1200.5M235.1 1181.8L244.5 1191.2M235.1 1191.2L244.5 1181.8M249.3 1162.4L258.7 1171.8M249.3 1171.8L258.7 1162.4M263.4 1142.9L272.8 1152.3M263.4 1152.3L272.8 1142.9M277.5 1122.0L286.9 1131.4M277.5 1131.4L286.9 1122.0M291.6 1100.0L301.0 1109.4M291.6 1109.4L301.0 1100.0M305.7 1080.6L315.1 1090.0M305.7 1090.0L315.1 1080.6M319.9 1064.4L329.3 1073.8M319.9 1073.8L329.3 1064.4M334.0 1045.8L343.4 1055.2M334.0 1055.2L343.4 1045.8M348.1 1029.9L357.5 1039.3M348.1 1039.3L357.5 1029.9M362.2 1017.4L371.6 1026.8M362.2 1026.8L371.6 1017.4M376.3 1006.1L385.7 1015.5M376.3 1015.5L385.7 1006.1M390.5 997.7L399.9 1007.1M390.5 1007.1L399.9 997.7M404.6 991.2L414.0 1000.6M404.6 1000.6L414.0 991.2M418.7 996.4L428.1 1005.8M418.7 1005.8L428.1 996.4M432.8 1011.3L442.2 1020.7M432.8 1020.7L442.2 1011.3M446.9 1029.1L456.3 1038.5M446.9 1038.5L456.3 1029.1M461.1 1033.7L470.5 1043.1M461.1 1043.1L470.5 1033.7M475.2 1040.4L484.6 1049.8M475.2 1049.8L484.6 1040.4M489.3 1040.4L498.7 1049.8M489.3 1049.8L498.7 1040.4M503.4 1036.2L512.8 1045.6M503.4 1045.6L512.8 1036.2M517.5 1028.2L526.9 1037.6M517.5 1037.6L526.9 1028.2M531.7 1018.6L541.1 1028.0M531.7 1028.0L541.1 1018.6M545.8 1009.6L555.2 1019.0M545.8 1019.0L555.2 1009.6M559.9 1000.6L569.3 1010.0M559.9 1010.0L569.3 1000.6M574.0 996.0L583.4 1005.4M574.0 1005.4L583.4 996.0M588.1 990.4L597.5 999.8M588.1 999.8L597.5 990.4M602.3 986.8L611.7 996.2M602.3 996.2L611.7 986.8M616.4 984.5L625.8 993.9M616.4 993.9L625.8 984.5M630.5 983.1L639.9 992.5M630.5 992.5L639.9 983.1M644.6 981.2L654.0 990.6M644.6 990.6L654.0 981.2M658.7 980.8L668.1 990.2M658.7 990.2L668.1 980.8M672.9 980.1L682.3 989.5M672.9 989.5L682.3 980.1M687.0 979.3L696.4 988.7M687.0 988.7L696.4 979.3M701.1 976.8L710.5 986.2M701.1 986.2L710.5 976.8M715.2 976.8L724.6 986.2M715.2 986.2L724.6 976.8M729.3 977.6L738.7 987.0M729.3 987.0L738.7 977.6M743.5 978.2L752.9 987.6M743.5 987.6L752.9 978.2M757.6 978.2L767.0 987.6M757.6 987.6L767.0 978.2M771.7 979.7L781.1 989.1M771.7 989.1L781.1 979.7M785.8 981.0L795.2 990.4M785.8 990.4L795.2 981.0" fill="none" stroke="#050b78" stroke-width="3.3"/>
<path d="M155.1 1312.1V1324.1M148.7 1312.1H161.5M148.7 1324.1H161.5M169.2 1313.7V1327.7M162.8 1313.7H175.6M162.8 1327.7H175.6M183.4 1312.2V1328.2M177.0 1312.2H189.8M177.0 1328.2H189.8M197.5 1303.4V1319.4M191.1 1303.4H203.9M191.1 1319.4H203.9M211.6 1296.1V1312.1M205.2 1296.1H218.0M205.2 1312.1H218.0M225.7 1282.9V1306.9M219.3 1282.9H232.1M219.3 1306.9H232.1M239.8 1271.5V1297.5M233.4 1271.5H246.2M233.4 1297.5H246.2M254.0 1261.2V1289.2M247.6 1261.2H260.4M247.6 1289.2H260.4M268.1 1251.0V1281.0M261.7 1251.0H274.5M261.7 1281.0H274.5M282.2 1241.2V1271.2M275.8 1241.2H288.6M275.8 1271.2H288.6M296.3 1230.3V1260.3M289.9 1230.3H302.7M289.9 1260.3H302.7M310.4 1218.8V1248.8M304.0 1218.8H316.8M304.0 1248.8H316.8M324.6 1207.9V1237.9M318.2 1207.9H331.0M318.2 1237.9H331.0M338.7 1197.5V1227.5M332.3 1197.5H345.1M332.3 1227.5H345.1M352.8 1184.1V1214.1M346.4 1184.1H359.2M346.4 1214.1H359.2M366.9 1171.7V1201.7M360.5 1171.7H373.3M360.5 1201.7H373.3M381.0 1160.4V1190.4M374.6 1160.4H387.4M374.6 1190.4H387.4M395.2 1152.5V1182.5M388.8 1152.5H401.6M388.8 1182.5H401.6M409.3 1144.8V1176.8M402.9 1144.8H415.7M402.9 1176.8H415.7M423.4 1129.6V1173.6M417.0 1129.6H429.8M417.0 1173.6H429.8M437.5 1122.0V1165.2M431.1 1122.0H443.9M431.1 1165.2H443.9M451.6 1111.7V1159.7M445.2 1111.7H458.0M445.2 1159.7H458.0M465.8 1103.0V1157.0M459.4 1103.0H472.2M459.4 1157.0H472.2M479.9 1097.6V1169.2M473.5 1097.6H486.3M473.5 1169.2H486.3M494.0 1103.9V1185.9M487.6 1103.9H500.4M487.6 1185.9H500.4M508.1 1116.2V1180.2M501.7 1116.2H514.5M501.7 1180.2H514.5M522.2 1122.2V1174.2M515.8 1122.2H528.6M515.8 1174.2H528.6M536.4 1120.5V1171.7M530.0 1120.5H542.8M530.0 1171.7H542.8M550.5 1117.1V1165.9M544.1 1117.1H556.9M544.1 1165.9H556.9M564.6 1111.6V1162.8M558.2 1111.6H571.0M558.2 1162.8H571.0M578.7 1110.4V1159.2M572.3 1110.4H585.1M572.3 1159.2H585.1M592.8 1106.9V1153.5M586.4 1106.9H599.2M586.4 1153.5H599.2M607.0 1103.2V1148.6M600.6 1103.2H613.4M600.6 1148.6H613.4M621.1 1095.6V1146.8M614.7 1095.6H627.5M614.7 1146.8H627.5M635.2 1094.0V1146.0M628.8 1094.0H641.6M628.8 1146.0H641.6M649.3 1091.9V1145.9M642.9 1091.9H655.7M642.9 1145.9H655.7M663.4 1090.9V1146.9M657.0 1090.9H669.8M657.0 1146.9H669.8M677.6 1088.2V1147.2M671.2 1088.2H684.0M671.2 1147.2H684.0M691.7 1086.2V1145.0M685.3 1086.2H698.1M685.3 1145.0H698.1M705.8 1086.8V1145.6M699.4 1086.8H712.2M699.4 1145.6H712.2M719.9 1085.6V1145.6M713.5 1085.6H726.3M713.5 1145.6H726.3M734.0 1084.1V1147.1M727.6 1084.1H740.4M727.6 1147.1H740.4M748.2 1087.1V1147.1M741.8 1087.1H754.6M741.8 1147.1H754.6M762.3 1087.1V1147.1M755.9 1087.1H768.7M755.9 1147.1H768.7M776.4 1086.4V1149.4M770.0 1086.4H782.8M770.0 1149.4H782.8M790.5 1088.0V1152.8M784.1 1088.0H796.9M784.1 1152.8H796.9" fill="none" stroke="#0673b2" stroke-width="3.9"/>
<path d="M141.0 1294.1 L155.1 1318.1 L169.2 1320.7 L183.4 1320.2 L197.5 1311.4 L211.6 1304.1 L225.7 1294.9 L239.8 1284.5 L254.0 1275.2 L268.1 1266.0 L282.2 1256.2 L296.3 1245.3 L310.4 1233.8 L324.6 1222.9 L338.7 1212.5 L352.8 1199.1 L366.9 1186.7 L381.0 1175.4 L395.2 1167.5 L409.3 1160.8 L423.4 1151.6 L437.5 1143.6 L451.6 1135.7 L465.8 1130.0 L479.9 1133.4 L494.0 1144.9 L508.1 1148.2 L522.2 1148.2 L536.4 1146.1 L550.5 1141.5 L564.6 1137.2 L578.7 1134.8 L592.8 1130.2 L607.0 1125.9 L621.1 1121.2 L635.2 1120.0 L649.3 1118.9 L663.4 1118.9 L677.6 1117.7 L691.7 1115.6 L705.8 1116.2 L719.9 1115.6 L734.0 1115.6 L748.2 1117.1 L762.3 1117.1 L776.4 1117.9 L790.5 1120.4" fill="none" stroke="#0673b2" stroke-width="2.5" stroke-linejoin="round"/>
<path d="M135.0 1294.1a6.0 6.0 0 1 0 12.0 0a6.0 6.0 0 1 0 -12.0 0zM149.1 1318.1a6.0 6.0 0 1 0 12.0 0a6.0 6.0 0 1 0 -12.0 0zM163.2 1320.7a6.0 6.0 0 1 0 12.0 0a6.0 6.0 0 1 0 -12.0 0zM177.4 1320.2a6.0 6.0 0 1 0 12.0 0a6.0 6.0 0 1 0 -12.0 0zM191.5 1311.4a6.0 6.0 0 1 0 12.0 0a6.0 6.0 0 1 0 -12.0 0zM205.6 1304.1a6.0 6.0 0 1 0 12.0 0a6.0 6.0 0 1 0 -12.0 0zM219.7 1294.9a6.0 6.0 0 1 0 12.0 0a6.0 6.0 0 1 0 -12.0 0zM233.8 1284.5a6.0 6.0 0 1 0 12.0 0a6.0 6.0 0 1 0 -12.0 0zM248.0 1275.2a6.0 6.0 0 1 0 12.0 0a6.0 6.0 0 1 0 -12.0 0zM262.1 1266.0a6.0 6.0 0 1 0 12.0 0a6.0 6.0 0 1 0 -12.0 0zM276.2 1256.2a6.0 6.0 0 1 0 12.0 0a6.0 6.0 0 1 0 -12.0 0zM290.3 1245.3a6.0 6.0 0 1 0 12.0 0a6.0 6.0 0 1 0 -12.0 0zM304.4 1233.8a6.0 6.0 0 1 0 12.0 0a6.0 6.0 0 1 0 -12.0 0zM318.6 1222.9a6.0 6.0 0 1 0 12.0 0a6.0 6.0 0 1 0 -12.0 0zM332.7 1212.5a6.0 6.0 0 1 0 12.0 0a6.0 6.0 0 1 0 -12.0 0zM346.8 1199.1a6.0 6.0 0 1 0 12.0 0a6.0 6.0 0 1 0 -12.0 0zM360.9 1186.7a6.0 6.0 0 1 0 12.0 0a6.0 6.0 0 1 0 -12.0 0zM375.0 1175.4a6.0 6.0 0 1 0 12.0 0a6.0 6.0 0 1 0 -12.0 0zM389.2 1167.5a6.0 6.0 0 1 0 12.0 0a6.0 6.0 0 1 0 -12.0 0zM403.3 1160.8a6.0 6.0 0 1 0 12.0 0a6.0 6.0 0 1 0 -12.0 0zM417.4 1151.6a6.0 6.0 0 1 0 12.0 0a6.0 6.0 0 1 0 -12.0 0zM431.5 1143.6a6.0 6.0 0 1 0 12.0 0a6.0 6.0 0 1 0 -12.0 0zM445.6 1135.7a6.0 6.0 0 1 0 12.0 0a6.0 6.0 0 1 0 -12.0 0zM459.8 1130.0a6.0 6.0 0 1 0 12.0 0a6.0 6.0 0 1 0 -12.0 0zM473.9 1133.4a6.0 6.0 0 1 0 12.0 0a6.0 6.0 0 1 0 -12.0 0zM488.0 1144.9a6.0 6.0 0 1 0 12.0 0a6.0 6.0 0 1 0 -12.0 0zM502.1 1148.2a6.0 6.0 0 1 0 12.0 0a6.0 6.0 0 1 0 -12.0 0zM516.2 1148.2a6.0 6.0 0 1 0 12.0 0a6.0 6.0 0 1 0 -12.0 0zM530.4 1146.1a6.0 6.0 0 1 0 12.0 0a6.0 6.0 0 1 0 -12.0 0zM544.5 1141.5a6.0 6.0 0 1 0 12.0 0a6.0 6.0 0 1 0 -12.0 0zM558.6 1137.2a6.0 6.0 0 1 0 12.0 0a6.0 6.0 0 1 0 -12.0 0zM572.7 1134.8a6.0 6.0 0 1 0 12.0 0a6.0 6.0 0 1 0 -12.0 0zM586.8 1130.2a6.0 6.0 0 1 0 12.0 0a6.0 6.0 0 1 0 -12.0 0zM601.0 1125.9a6.0 6.0 0 1 0 12.0 0a6.0 6.0 0 1 0 -12.0 0zM615.1 1121.2a6.0 6.0 0 1 0 12.0 0a6.0 6.0 0 1 0 -12.0 0zM629.2 1120.0a6.0 6.0 0 1 0 12.0 0a6.0 6.0 0 1 0 -12.0 0zM643.3 1118.9a6.0 6.0 0 1 0 12.0 0a6.0 6.0 0 1 0 -12.0 0zM657.4 1118.9a6.0 6.0 0 1 0 12.0 0a6.0 6.0 0 1 0 -12.0 0zM671.6 1117.7a6.0 6.0 0 1 0 12.0 0a6.0 6.0 0 1 0 -12.0 0zM685.7 1115.6a6.0 6.0 0 1 0 12.0 0a6.0 6.0 0 1 0 -12.0 0zM699.8 1116.2a6.0 6.0 0 1 0 12.0 0a6.0 6.0 0 1 0 -12.0 0zM713.9 1115.6a6.0 6.0 0 1 0 12.0 0a6.0 6.0 0 1 0 -12.0 0zM728.0 1115.6a6.0 6.0 0 1 0 12.0 0a6.0 6.0 0 1 0 -12.0 0zM742.2 1117.1a6.0 6.0 0 1 0 12.0 0a6.0 6.0 0 1 0 -12.0 0zM756.3 1117.1a6.0 6.0 0 1 0 12.0 0a6.0 6.0 0 1 0 -12.0 0zM770.4 1117.9a6.0 6.0 0 1 0 12.0 0a6.0 6.0 0 1 0 -12.0 0zM784.5 1120.4a6.0 6.0 0 1 0 12.0 0a6.0 6.0 0 1 0 -12.0 0z" fill="none" stroke="#0673b2" stroke-width="3"/>
<path d="M155.1 1321.6V1335.6M148.7 1321.6H161.5M148.7 1335.6H161.5M169.2 1331.1V1349.1M162.8 1331.1H175.6M162.8 1349.1H175.6M183.4 1330.1V1348.1M177.0 1330.1H189.8M177.0 1348.1H189.8M197.5 1329.9V1347.9M191.1 1329.9H203.9M191.1 1347.9H203.9M211.6 1329.9V1347.9M205.2 1329.9H218.0M205.2 1347.9H218.0M225.7 1329.4V1347.4M219.3 1329.4H232.1M219.3 1347.4H232.1M239.8 1328.0V1346.0M233.4 1328.0H246.2M233.4 1346.0H246.2M254.0 1326.3V1344.3M247.6 1326.3H260.4M247.6 1344.3H260.4M268.1 1322.8V1342.8M261.7 1322.8H274.5M261.7 1342.8H274.5M282.2 1320.1V1340.1M275.8 1320.1H288.6M275.8 1340.1H288.6M296.3 1316.6V1338.6M289.9 1316.6H302.7M289.9 1338.6H302.7M310.4 1313.0V1337.0M304.0 1313.0H316.8M304.0 1337.0H316.8M324.6 1310.3V1334.3M318.2 1310.3H331.0M318.2 1334.3H331.0M338.7 1306.2V1334.2M332.3 1306.2H345.1M332.3 1334.2H345.1M352.8 1304.1V1332.1M346.4 1304.1H359.2M346.4 1332.1H359.2M366.9 1302.1V1330.1M360.5 1302.1H373.3M360.5 1330.1H373.3M381.0 1300.0V1328.0M374.6 1300.0H387.4M374.6 1328.0H387.4M395.2 1296.9V1326.9M388.8 1296.9H401.6M388.8 1326.9H401.6M409.3 1294.8V1324.8M402.9 1294.8H415.7M402.9 1324.8H415.7M423.4 1292.4V1323.4M417.0 1292.4H429.8M417.0 1323.4H429.8M437.5 1288.6V1322.6M431.1 1288.6H443.9M431.1 1322.6H443.9M451.6 1285.0V1322.0M445.2 1285.0H458.0M445.2 1322.0H458.0M465.8 1281.8V1321.8M459.4 1281.8H472.2M459.4 1321.8H472.2M479.9 1278.9V1321.9M473.5 1278.9H486.3M473.5 1321.9H486.3M494.0 1276.1V1322.1M487.6 1276.1H500.4M487.6 1322.1H500.4M508.1 1271.7V1320.7M501.7 1271.7H514.5M501.7 1320.7H514.5M522.2 1267.0V1319.0M515.8 1267.0H528.6M515.8 1319.0H528.6M536.4 1262.9V1316.9M530.0 1262.9H542.8M530.0 1316.9H542.8M550.5 1258.3V1315.3M544.1 1258.3H556.9M544.1 1315.3H556.9M564.6 1253.6V1311.6M558.2 1253.6H571.0M558.2 1311.6H571.0M578.7 1247.4V1309.4M572.3 1247.4H585.1M572.3 1309.4H585.1M592.8 1241.4V1307.4M586.4 1241.4H599.2M586.4 1307.4H599.2M607.0 1234.6V1304.6M600.6 1234.6H613.4M600.6 1304.6H613.4M621.1 1226.0V1304.0M614.7 1226.0H627.5M614.7 1304.0H627.5M635.2 1219.0V1303.0M628.8 1219.0H641.6M628.8 1303.0H641.6M649.3 1211.0V1300.2M642.9 1211.0H655.7M642.9 1300.2H655.7M663.4 1205.6V1297.6M657.0 1205.6H669.8M657.0 1297.6H669.8M677.6 1200.8V1294.0M671.2 1200.8H684.0M671.2 1294.0H684.0M691.7 1196.9V1292.9M685.3 1196.9H698.1M685.3 1292.9H698.1M705.8 1198.4V1288.4M699.4 1198.4H712.2M699.4 1288.4H712.2M719.9 1197.6V1285.6M713.5 1197.6H726.3M713.5 1285.6H726.3M734.0 1204.0V1277.4M727.6 1204.0H740.4M727.6 1277.4H740.4M748.2 1207.7V1273.7M741.8 1207.7H754.6M741.8 1273.7H754.6M762.3 1210.1V1270.1M755.9 1210.1H768.7M755.9 1270.1H768.7M776.4 1209.0V1267.0M770.0 1209.0H782.8M770.0 1267.0H782.8M790.5 1209.7V1262.9M784.1 1209.7H796.9M784.1 1262.9H796.9" fill="none" stroke="#00d2f5" stroke-width="3.9"/>
<path d="M141.0 1294.1 L155.1 1328.6 L169.2 1340.1 L183.4 1339.1 L197.5 1338.9 L211.6 1338.9 L225.7 1338.4 L239.8 1337.0 L254.0 1335.3 L268.1 1332.8 L282.2 1330.1 L296.3 1327.6 L310.4 1325.0 L324.6 1322.3 L338.7 1320.2 L352.8 1318.1 L366.9 1316.1 L381.0 1314.0 L395.2 1311.9 L409.3 1309.8 L423.4 1307.9 L437.5 1305.6 L451.6 1303.5 L465.8 1301.8 L479.9 1300.4 L494.0 1299.1 L508.1 1296.2 L522.2 1293.0 L536.4 1289.9 L550.5 1286.8 L564.6 1282.6 L578.7 1278.4 L592.8 1274.4 L607.0 1269.6 L621.1 1265.0 L635.2 1261.0 L649.3 1255.6 L663.4 1251.6 L677.6 1247.4 L691.7 1244.9 L705.8 1243.4 L719.9 1241.6 L734.0 1240.7 L748.2 1240.7 L762.3 1240.1 L776.4 1238.0 L790.5 1236.3" fill="none" stroke="#00d2f5" stroke-width="2.5" stroke-linejoin="round"/>
<path d="M151.0 1294.1L136.0 1285.4L136.0 1302.7zM165.1 1328.6L150.1 1319.9L150.1 1337.3zM179.2 1340.1L164.2 1331.5L164.2 1348.8zM193.4 1339.1L178.4 1330.4L178.4 1347.7zM207.5 1338.9L192.5 1330.2L192.5 1347.5zM221.6 1338.9L206.6 1330.2L206.6 1347.5zM235.7 1338.4L220.7 1329.8L220.7 1347.1zM249.8 1337.0L234.8 1328.3L234.8 1345.6zM264.0 1335.3L249.0 1326.6L249.0 1344.0zM278.1 1332.8L263.1 1324.1L263.1 1341.4zM292.2 1330.1L277.2 1321.4L277.2 1338.7zM306.3 1327.6L291.3 1318.9L291.3 1336.2zM320.4 1325.0L305.4 1316.4L305.4 1333.7zM334.6 1322.3L319.6 1313.7L319.6 1331.0zM348.7 1320.2L333.7 1311.6L333.7 1328.9zM362.8 1318.1L347.8 1309.5L347.8 1326.8zM376.9 1316.1L361.9 1307.4L361.9 1324.7zM391.0 1314.0L376.0 1305.3L376.0 1322.6zM405.2 1311.9L390.2 1303.2L390.2 1320.5zM419.3 1309.8L404.3 1301.1L404.3 1318.4zM433.4 1307.9L418.4 1299.2L418.4 1316.5zM447.5 1305.6L432.5 1296.9L432.5 1314.2zM461.6 1303.5L446.6 1294.8L446.6 1312.2zM475.8 1301.8L460.8 1293.2L460.8 1310.5zM489.9 1300.4L474.9 1291.7L474.9 1309.0zM504.0 1299.1L489.0 1290.4L489.0 1307.8zM518.1 1296.2L503.1 1287.5L503.1 1304.8zM532.2 1293.0L517.2 1284.4L517.2 1301.7zM546.4 1289.9L531.4 1281.2L531.4 1298.6zM560.5 1286.8L545.5 1278.1L545.5 1295.4zM574.6 1282.6L559.6 1273.9L559.6 1291.2zM588.7 1278.4L573.7 1269.7L573.7 1287.0zM602.8 1274.4L587.8 1265.8L587.8 1283.1zM617.0 1269.6L602.0 1260.9L602.0 1278.3zM631.1 1265.0L616.1 1256.3L616.1 1273.7zM645.2 1261.0L630.2 1252.4L630.2 1269.7zM659.3 1255.6L644.3 1246.9L644.3 1264.2zM673.4 1251.6L658.4 1242.9L658.4 1260.3zM687.6 1247.4L672.6 1238.8L672.6 1256.1zM701.7 1244.9L686.7 1236.2L686.7 1253.6zM715.8 1243.4L700.8 1234.8L700.8 1252.1zM729.9 1241.6L714.9 1232.9L714.9 1250.2zM744.0 1240.7L729.0 1232.1L729.0 1249.4zM758.2 1240.7L743.2 1232.1L743.2 1249.4zM772.3 1240.1L757.3 1231.4L757.3 1248.8zM786.4 1238.0L771.4 1229.3L771.4 1246.7zM800.5 1236.3L785.5 1227.7L785.5 1245.0z" fill="none" stroke="#00d2f5" stroke-width="3"/>
<path d="M155.1 1311.0V1329.0M148.7 1311.0H161.5M148.7 1329.0H161.5M169.2 1322.7V1340.7M162.8 1322.7H175.6M162.8 1340.7H175.6M183.4 1327.8V1339.8M177.0 1327.8H189.8M177.0 1339.8H189.8M197.5 1330.5V1340.5M191.1 1330.5H203.9M191.1 1340.5H203.9M211.6 1330.9V1340.9M205.2 1330.9H218.0M205.2 1340.9H218.0M225.7 1330.9V1340.9M219.3 1330.9H232.1M219.3 1340.9H232.1M239.8 1330.9V1340.9M233.4 1330.9H246.2M233.4 1340.9H246.2M254.0 1330.9V1340.9M247.6 1330.9H260.4M247.6 1340.9H260.4M268.1 1330.9V1340.9M261.7 1330.9H274.5M261.7 1340.9H274.5M282.2 1330.9V1340.9M275.8 1330.9H288.6M275.8 1340.9H288.6M296.3 1330.7V1340.7M289.9 1330.7H302.7M289.9 1340.7H302.7M310.4 1330.3V1340.3M304.0 1330.3H316.8M304.0 1340.3H316.8M324.6 1329.9V1339.9M318.2 1329.9H331.0M318.2 1339.9H331.0M338.7 1329.9V1339.9M332.3 1329.9H345.1M332.3 1339.9H345.1M352.8 1329.3V1339.3M346.4 1329.3H359.2M346.4 1339.3H359.2M366.9 1328.8V1338.8M360.5 1328.8H373.3M360.5 1338.8H373.3M381.0 1328.8V1338.8M374.6 1328.8H387.4M374.6 1338.8H387.4M395.2 1328.4V1338.4M388.8 1328.4H401.6M388.8 1338.4H401.6M409.3 1327.8V1337.8M402.9 1327.8H415.7M402.9 1337.8H415.7M423.4 1327.4V1337.4M417.0 1327.4H429.8M417.0 1337.4H429.8M437.5 1326.7V1336.7M431.1 1326.7H443.9M431.1 1336.7H443.9M451.6 1326.3V1336.3M445.2 1326.3H458.0M445.2 1336.3H458.0M465.8 1325.7V1335.7M459.4 1325.7H472.2M459.4 1335.7H472.2M479.9 1325.1V1335.1M473.5 1325.1H486.3M473.5 1335.1H486.3M494.0 1324.7V1334.7M487.6 1324.7H500.4M487.6 1334.7H500.4M508.1 1323.1V1334.1M501.7 1323.1H514.5M501.7 1334.1H514.5M522.2 1320.6V1334.6M515.8 1320.6H528.6M515.8 1334.6H528.6M536.4 1319.5V1333.5M530.0 1319.5H542.8M530.0 1333.5H542.8M550.5 1318.0V1333.0M544.1 1318.0H556.9M544.1 1333.0H556.9M564.6 1316.0V1332.0M558.2 1316.0H571.0M558.2 1332.0H571.0M578.7 1314.2V1332.2M572.3 1314.2H585.1M572.3 1332.2H585.1M592.8 1312.1V1332.1M586.4 1312.1H599.2M586.4 1332.1H599.2M607.0 1310.3V1332.3M600.6 1310.3H613.4M600.6 1332.3H613.4M621.1 1306.4V1330.4M614.7 1306.4H627.5M614.7 1330.4H627.5M635.2 1303.5V1329.5M628.8 1303.5H641.6M628.8 1329.5H641.6M649.3 1300.6V1328.6M642.9 1300.6H655.7M642.9 1328.6H655.7M663.4 1298.4V1327.4M657.0 1298.4H669.8M657.0 1327.4H669.8M677.6 1296.2V1326.2M671.2 1296.2H684.0M671.2 1326.2H684.0M691.7 1293.9V1324.9M685.3 1293.9H698.1M685.3 1324.9H698.1M705.8 1291.7V1323.7M699.4 1291.7H712.2M699.4 1323.7H712.2M719.9 1288.8V1322.8M713.5 1288.8H726.3M713.5 1322.8H726.3M734.0 1286.4V1321.4M727.6 1286.4H740.4M727.6 1321.4H740.4M748.2 1283.5V1320.5M741.8 1283.5H754.6M741.8 1320.5H754.6M762.3 1280.4V1319.4M755.9 1280.4H768.7M755.9 1319.4H768.7M776.4 1275.2V1319.2M770.0 1275.2H782.8M770.0 1319.2H782.8M790.5 1272.1V1318.1M784.1 1272.1H796.9M784.1 1318.1H796.9" fill="none" stroke="#aeb1e8" stroke-width="3.9"/>
<path d="M141.0 1294.1 L155.1 1320.0 L169.2 1331.7 L183.4 1333.8 L197.5 1335.5 L211.6 1335.9 L225.7 1335.9 L239.8 1335.9 L254.0 1335.9 L268.1 1335.9 L282.2 1335.9 L296.3 1335.7 L310.4 1335.3 L324.6 1334.9 L338.7 1334.9 L352.8 1334.3 L366.9 1333.8 L381.0 1333.8 L395.2 1333.4 L409.3 1332.8 L423.4 1332.4 L437.5 1331.7 L451.6 1331.3 L465.8 1330.7 L479.9 1330.1 L494.0 1329.7 L508.1 1328.6 L522.2 1327.6 L536.4 1326.5 L550.5 1325.5 L564.6 1324.0 L578.7 1323.2 L592.8 1322.1 L607.0 1321.3 L621.1 1318.4 L635.2 1316.5 L649.3 1314.6 L663.4 1312.9 L677.6 1311.2 L691.7 1309.4 L705.8 1307.7 L719.9 1305.8 L734.0 1303.9 L748.2 1302.0 L762.3 1299.9 L776.4 1297.2 L790.5 1295.1" fill="none" stroke="#aeb1e8" stroke-width="2.5" stroke-linejoin="round"/>
<path d="M141.0 1284.6L143.3 1290.9L150.0 1291.1L144.7 1295.3L146.6 1301.8L141.0 1298.0L135.4 1301.8L137.3 1295.3L132.0 1291.1L138.7 1290.9zM155.1 1310.5L157.4 1316.9L164.2 1317.1L158.8 1321.2L160.7 1327.7L155.1 1323.9L149.5 1327.7L151.4 1321.2L146.1 1317.1L152.8 1316.9zM169.2 1322.2L171.5 1328.6L178.3 1328.8L172.9 1332.9L174.8 1339.4L169.2 1335.6L163.7 1339.4L165.5 1332.9L160.2 1328.8L166.9 1328.6zM183.4 1324.3L185.7 1330.7L192.4 1330.9L187.1 1335.0L188.9 1341.5L183.4 1337.7L177.8 1341.5L179.7 1335.0L174.3 1330.9L181.1 1330.7zM197.5 1326.0L199.8 1332.4L206.5 1332.6L201.2 1336.7L203.1 1343.2L197.5 1339.4L191.9 1343.2L193.8 1336.7L188.4 1332.6L195.2 1332.4zM211.6 1326.4L213.9 1332.8L220.6 1333.0L215.3 1337.1L217.2 1343.6L211.6 1339.8L206.0 1343.6L207.9 1337.1L202.6 1333.0L209.3 1332.8zM225.7 1326.4L228.0 1332.8L234.8 1333.0L229.4 1337.1L231.3 1343.6L225.7 1339.8L220.1 1343.6L222.0 1337.1L216.7 1333.0L223.4 1332.8zM239.8 1326.4L242.1 1332.8L248.9 1333.0L243.5 1337.1L245.4 1343.6L239.8 1339.8L234.3 1343.6L236.1 1337.1L230.8 1333.0L237.5 1332.8zM254.0 1326.4L256.3 1332.8L263.0 1333.0L257.7 1337.1L259.5 1343.6L254.0 1339.8L248.4 1343.6L250.3 1337.1L244.9 1333.0L251.7 1332.8zM268.1 1326.4L270.4 1332.8L277.1 1333.0L271.8 1337.1L273.7 1343.6L268.1 1339.8L262.5 1343.6L264.4 1337.1L259.0 1333.0L265.8 1332.8zM282.2 1326.4L284.5 1332.8L291.2 1333.0L285.9 1337.1L287.8 1343.6L282.2 1339.8L276.6 1343.6L278.5 1337.1L273.2 1333.0L279.9 1332.8zM296.3 1326.2L298.6 1332.6L305.4 1332.8L300.0 1336.9L301.9 1343.4L296.3 1339.6L290.7 1343.4L292.6 1336.9L287.3 1332.8L294.0 1332.6zM310.4 1325.8L312.7 1332.1L319.5 1332.4L314.1 1336.5L316.0 1343.0L310.4 1339.2L304.9 1343.0L306.7 1336.5L301.4 1332.4L308.1 1332.1zM324.6 1325.4L326.9 1331.7L333.6 1331.9L328.3 1336.1L330.1 1342.6L324.6 1338.8L319.0 1342.6L320.9 1336.1L315.5 1331.9L322.3 1331.7zM338.7 1325.4L341.0 1331.7L347.7 1331.9L342.4 1336.1L344.3 1342.6L338.7 1338.8L333.1 1342.6L335.0 1336.1L329.6 1331.9L336.4 1331.7zM352.8 1324.8L355.1 1331.1L361.8 1331.3L356.5 1335.5L358.4 1341.9L352.8 1338.2L347.2 1341.9L349.1 1335.5L343.8 1331.3L350.5 1331.1zM366.9 1324.3L369.2 1330.7L376.0 1330.9L370.6 1335.0L372.5 1341.5L366.9 1337.7L361.3 1341.5L363.2 1335.0L357.9 1330.9L364.6 1330.7zM381.0 1324.3L383.3 1330.7L390.1 1330.9L384.7 1335.0L386.6 1341.5L381.0 1337.7L375.5 1341.5L377.3 1335.0L372.0 1330.9L378.7 1330.7zM395.2 1323.9L397.5 1330.3L404.2 1330.5L398.9 1334.6L400.7 1341.1L395.2 1337.3L389.6 1341.1L391.5 1334.6L386.1 1330.5L392.9 1330.3zM409.3 1323.3L411.6 1329.6L418.3 1329.9L413.0 1334.0L414.9 1340.5L409.3 1336.7L403.7 1340.5L405.6 1334.0L400.2 1329.9L407.0 1329.6zM423.4 1322.9L425.7 1329.2L432.4 1329.4L427.1 1333.6L429.0 1340.1L423.4 1336.3L417.8 1340.1L419.7 1333.6L414.4 1329.4L421.1 1329.2zM437.5 1322.2L439.8 1328.6L446.6 1328.8L441.2 1332.9L443.1 1339.4L437.5 1335.6L431.9 1339.4L433.8 1332.9L428.5 1328.8L435.2 1328.6zM451.6 1321.8L453.9 1328.2L460.7 1328.4L455.3 1332.5L457.2 1339.0L451.6 1335.2L446.1 1339.0L447.9 1332.5L442.6 1328.4L449.3 1328.2zM465.8 1321.2L468.1 1327.5L474.8 1327.8L469.5 1331.9L471.3 1338.4L465.8 1334.6L460.2 1338.4L462.1 1331.9L456.7 1327.8L463.5 1327.5zM479.9 1320.6L482.2 1326.9L488.9 1327.1L483.6 1331.3L485.5 1337.8L479.9 1334.0L474.3 1337.8L476.2 1331.3L470.8 1327.1L477.6 1326.9zM494.0 1320.2L496.3 1326.5L503.0 1326.7L497.7 1330.9L499.6 1337.3L494.0 1333.6L488.4 1337.3L490.3 1330.9L485.0 1326.7L491.7 1326.5zM508.1 1319.1L510.4 1325.4L517.2 1325.7L511.8 1329.8L513.7 1336.3L508.1 1332.5L502.5 1336.3L504.4 1329.8L499.1 1325.7L505.8 1325.4zM522.2 1318.1L524.5 1324.4L531.3 1324.6L525.9 1328.8L527.8 1335.2L522.2 1331.5L516.7 1335.2L518.5 1328.8L513.2 1324.6L519.9 1324.4zM536.4 1317.0L538.7 1323.4L545.4 1323.6L540.1 1327.7L541.9 1334.2L536.4 1330.4L530.8 1334.2L532.7 1327.7L527.3 1323.6L534.1 1323.4zM550.5 1316.0L552.8 1322.3L559.5 1322.5L554.2 1326.7L556.1 1333.2L550.5 1329.4L544.9 1333.2L546.8 1326.7L541.4 1322.5L548.2 1322.3zM564.6 1314.5L566.9 1320.8L573.6 1321.1L568.3 1325.2L570.2 1331.7L564.6 1327.9L559.0 1331.7L560.9 1325.2L555.6 1321.1L562.3 1320.8zM578.7 1313.7L581.0 1320.0L587.8 1320.2L582.4 1324.4L584.3 1330.9L578.7 1327.1L573.1 1330.9L575.0 1324.4L569.7 1320.2L576.4 1320.0zM592.8 1312.6L595.1 1319.0L601.9 1319.2L596.5 1323.3L598.4 1329.8L592.8 1326.0L587.3 1329.8L589.1 1323.3L583.8 1319.2L590.5 1319.0zM607.0 1311.8L609.3 1318.1L616.0 1318.3L610.7 1322.5L612.5 1329.0L607.0 1325.2L601.4 1329.0L603.3 1322.5L597.9 1318.3L604.7 1318.1zM621.1 1308.9L623.4 1315.2L630.1 1315.4L624.8 1319.6L626.7 1326.0L621.1 1322.3L615.5 1326.0L617.4 1319.6L612.0 1315.4L618.8 1315.2zM635.2 1307.0L637.5 1313.3L644.2 1313.5L638.9 1317.7L640.8 1324.2L635.2 1320.4L629.6 1324.2L631.5 1317.7L626.2 1313.5L632.9 1313.3zM649.3 1305.1L651.6 1311.4L658.4 1311.6L653.0 1315.8L654.9 1322.3L649.3 1318.5L643.7 1322.3L645.6 1315.8L640.3 1311.6L647.0 1311.4zM663.4 1303.4L665.7 1309.8L672.5 1310.0L667.1 1314.1L669.0 1320.6L663.4 1316.8L657.9 1320.6L659.7 1314.1L654.4 1310.0L661.1 1309.8zM677.6 1301.7L679.9 1308.1L686.6 1308.3L681.3 1312.4L683.1 1318.9L677.6 1315.1L672.0 1318.9L673.9 1312.4L668.5 1308.3L675.3 1308.1zM691.7 1299.9L694.0 1306.2L700.7 1306.4L695.4 1310.6L697.3 1317.0L691.7 1313.3L686.1 1317.0L688.0 1310.6L682.6 1306.4L689.4 1306.2zM705.8 1298.2L708.1 1304.5L714.8 1304.7L709.5 1308.9L711.4 1315.4L705.8 1311.6L700.2 1315.4L702.1 1308.9L696.8 1304.7L703.5 1304.5zM719.9 1296.3L722.2 1302.6L729.0 1302.9L723.6 1307.0L725.5 1313.5L719.9 1309.7L714.3 1313.5L716.2 1307.0L710.9 1302.9L717.6 1302.6zM734.0 1294.4L736.3 1300.8L743.1 1301.0L737.7 1305.1L739.6 1311.6L734.0 1307.8L728.5 1311.6L730.3 1305.1L725.0 1301.0L731.7 1300.8zM748.2 1292.5L750.5 1298.9L757.2 1299.1L751.9 1303.2L753.7 1309.7L748.2 1305.9L742.6 1309.7L744.5 1303.2L739.1 1299.1L745.9 1298.9zM762.3 1290.4L764.6 1296.8L771.3 1297.0L766.0 1301.1L767.9 1307.6L762.3 1303.8L756.7 1307.6L758.6 1301.1L753.2 1297.0L760.0 1296.8zM776.4 1287.7L778.7 1294.1L785.4 1294.3L780.1 1298.4L782.0 1304.9L776.4 1301.1L770.8 1304.9L772.7 1298.4L767.4 1294.3L774.1 1294.1zM790.5 1285.6L792.8 1292.0L799.6 1292.2L794.2 1296.3L796.1 1302.8L790.5 1299.0L784.9 1302.8L786.8 1296.3L781.5 1292.2L788.2 1292.0z" fill="#aeb1e8" stroke="#aeb1e8" stroke-width="1"/>
</svg>
</body></html>
